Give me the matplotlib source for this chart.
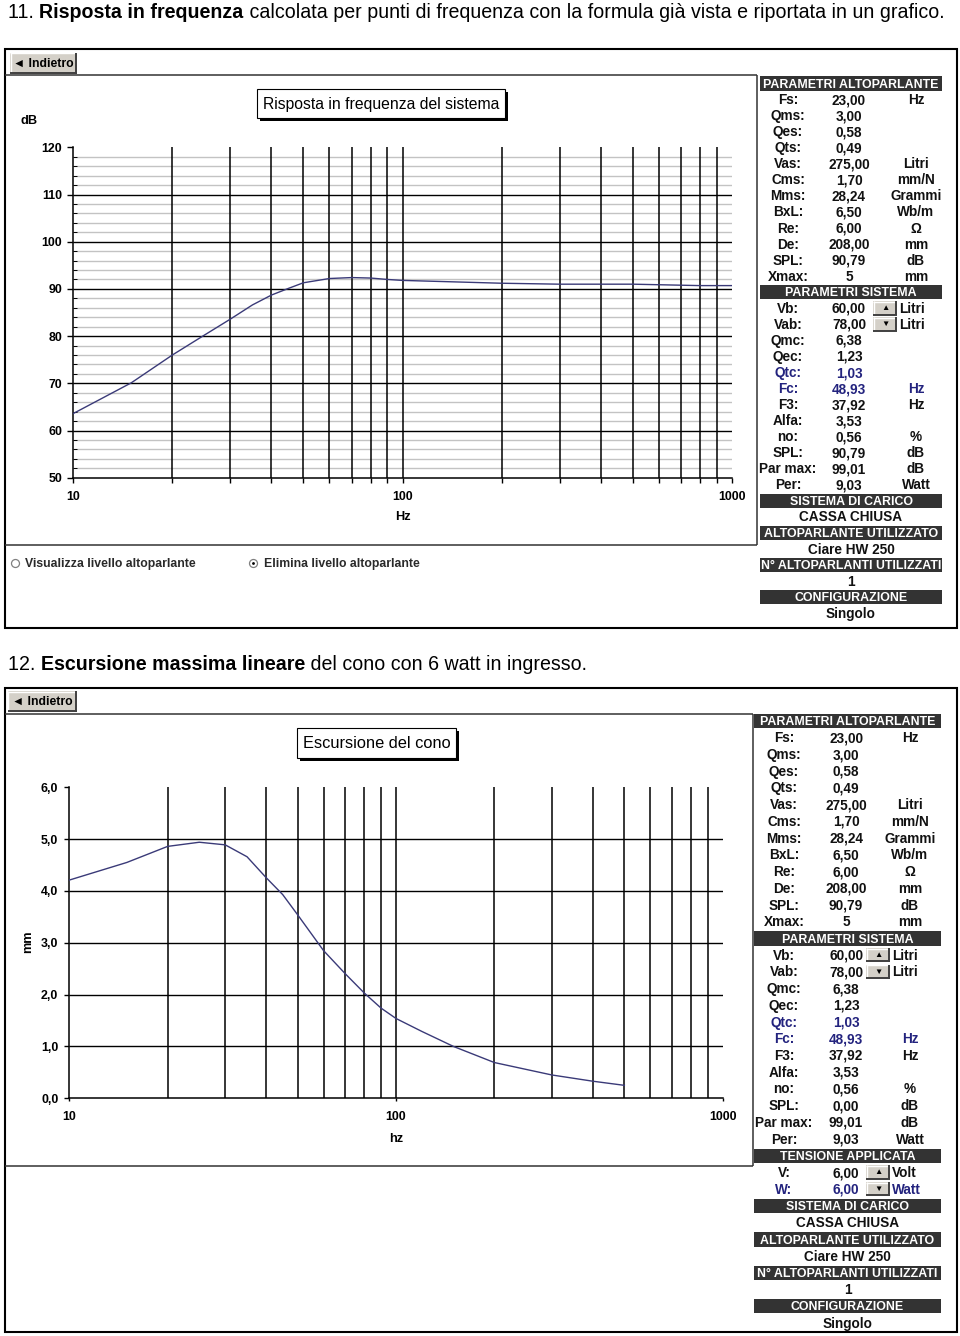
import numpy as np
import matplotlib
matplotlib.use('Agg')
from matplotlib import pyplot as plt
from matplotlib import font_manager as fm
from matplotlib.patches import Rectangle, Circle

W, H = 960, 1336


def have_font(name):
    try:
        fm.findfont(fm.FontProperties(family=name), fallback_to_default=False)
        return True
    except ValueError:
        return False


NARROW = ['Liberation Sans Narrow', 'DejaVu Sans'] if have_font('Liberation Sans Narrow') else ['Liberation Sans', 'DejaVu Sans']
SANS = ['Liberation Sans', 'DejaVu Sans']
plt.rcParams['font.family'] = SANS

# chart 11 : frequency response (dB)
resp_freq = [10, 15, 20, 25, 30, 35, 40, 45, 50, 60, 70, 80, 90, 100, 150, 200, 300, 500, 800, 1000]
resp_db = [63.6, 70.1, 76.0, 80.2, 83.6, 86.6, 88.7, 90.1, 91.3, 92.2, 92.4, 92.3, 92.0, 91.8,
           91.45, 91.2, 91.0, 91.0, 90.7, 90.7]

# chart 12 : cone excursion (mm)
exc_freq = [10, 15, 20, 25, 30, 35, 40, 45, 50, 60, 70, 80, 90, 100, 120, 150, 200, 300, 400, 500]
exc_mm = [4.21, 4.55, 4.86, 4.94, 4.89, 4.66, 4.26, 3.93, 3.54, 2.85, 2.40, 2.03, 1.74, 1.54,
          1.29, 1.00, 0.69, 0.45, 0.33, 0.25]

grid_freq = [20, 30, 40, 50, 60, 70, 80, 90, 100, 200, 300, 400, 500, 600, 700, 800, 900]
x_ticks = [10, 100, 1000]
x_labels = ['10', '100', '1000']
db_ticks = [50, 60, 70, 80, 90, 100, 110, 120]
mm_ticks = [0, 1, 2, 3, 4, 5, 6]
mm_labels = ['0,0', '1,0', '2,0', '3,0', '4,0', '5,0', '6,0']

# parameter tables
spk_labels = ['Fs:', 'Qms:', 'Qes:', 'Qts:', 'Vas:', 'Cms:', 'Mms:', 'BxL:', 'Re:', 'De:', 'SPL:', 'Xmax:']
spk_values = ['23,00', '3,00', '0,58', '0,49', '275,00', '1,70', '28,24', '6,50', '6,00', '208,00', '90,79', '5']
spk_units = ['Hz', '', '', '', 'Litri', 'mm/N', 'Grammi', 'Wb/m', 'Ω', 'mm', 'dB', 'mm']
sys_labels = ['Vb:', 'Vab:', 'Qmc:', 'Qec:', 'Qtc:', 'Fc:', 'F3:', 'Alfa:', 'no:', 'SPL:', 'Par max:', 'Per:']
sys_values_11 = ['60,00', '78,00', '6,38', '1,23', '1,03', '48,93', '37,92', '3,53', '0,56', '90,79', '99,01', '9,03']
sys_values_12 = ['60,00', '78,00', '6,38', '1,23', '1,03', '48,93', '37,92', '3,53', '0,56', '0,00', '99,01', '9,03']
sys_units = ['Litri', 'Litri', '', '', '', 'Hz', 'Hz', '', '%', 'dB', 'dB', 'Watt']
volt_labels = ['V:', 'W:']
volt_values = ['6,00', '6,00']
volt_units = ['Volt', 'Watt']
info_heads = ['SISTEMA DI CARICO', 'ALTOPARLANTE UTILIZZATO', 'N° ALTOPARLANTI UTILIZZATI', 'CONFIGURAZIONE']
info_values = ['CASSA CHIUSA', 'Ciare HW 250', '1', 'Singolo']
blue_rows = ['Qtc:', 'Fc:', 'W:']
spin_rows = {'Vb:': '▲', 'Vab:': '▼', 'V:': '▲', 'W:': '▼'}

BLUE = '#23237e'
CURVE = '#3a3a78'

fig = plt.figure(figsize=(W / 100, H / 100), dpi=100)
bg = fig.add_axes([0, 0, 1, 1])
bg.set_xlim(0, W)
bg.set_ylim(H, 0)
bg.axis('off')
renderer = fig.canvas.get_renderer()


def box(x0, y0, x1, y1):
    return [x0 / W, 1 - y1 / H, (x1 - x0) / W, (y1 - y0) / H]


def line(xs, ys, lw=1.0, c='black'):
    bg.plot(xs, ys, color=c, lw=lw, solid_capstyle='butt')


def rich_title(x, y, parts, width):
    # place the parts one after the other, then scale them to the width seen in the picture
    texts = [bg.text(x, y, parts[0][0], fontsize=14, family=NARROW, fontweight=parts[0][1],
                     va='center', ha='left')]
    for s, w in parts[1:]:
        texts.append(bg.annotate(s, xy=(1, 0), xycoords=texts[-1], fontsize=14, family=NARROW,
                                 fontweight=w, va='bottom', ha='left'))
    total = sum(t.get_window_extent(renderer).width for t in texts)
    for t in texts:
        t.set_fontsize(14 * width / total)


def button(x0, y0, x1, y1, text, size=8.8):
    bg.add_patch(Rectangle((x0, y0), x1 - x0, y1 - y0, fc='#d4d0c8', ec='none'))
    line([x0, x1], [y0 + 0.5, y0 + 0.5], 1, 'white')
    line([x0 + 0.5, x0 + 0.5], [y0, y1], 1, 'white')
    line([x0, x1], [y1 - 0.7, y1 - 0.7], 1.4, '#404040')
    line([x1 - 0.7, x1 - 0.7], [y0, y1], 1.4, '#404040')
    bg.text((x0 + x1) / 2, (y0 + y1) / 2 + 0.5, text, fontsize=size, fontweight='bold',
            ha='center', va='center', family=SANS)


def title_box(x0, y0, x1, y1, text, size):
    bg.add_patch(Rectangle((x0 + 3, y0 + 3), x1 - x0, y1 - y0, fc='black', ec='none'))
    bg.add_patch(Rectangle((x0, y0), x1 - x0, y1 - y0, fc='white', ec='black', lw=0.8))
    bg.text((x0 + x1) / 2, (y0 + y1) / 2 + 0.5, text, fontsize=size, ha='center', va='center')


def param_table(rows, x0, x1, y_top, dy, cols, btn_x):
    cl, cv, cu = cols
    # baseline alignment so that commas and descenders do not shift a row
    tb = dict(fontsize=9.8, fontweight='bold', family=NARROW, va='baseline', ha='center')
    hb = dict(tb, fontsize=8.9)
    for i, row in enumerate(rows):
        y = y_top + i * dy
        yb = y + 4.6
        if row[0] == 'h':
            bg.add_patch(Rectangle((x0, y - 7.2), x1 - x0, 14.4, fc='#333333', ec='none'))
            bg.text((x0 + x1) / 2, y + 4.3, row[1], color='white', **hb)
        elif row[0] == 'c':
            bg.text((x0 + x1) / 2, yb, row[1], color='#111111', **tb)
        else:
            lab, val, unit = row[1], row[2], row[3]
            c = BLUE if lab in blue_rows else '#111111'
            bg.text(cl, yb, lab, color=c, **tb)
            bg.text(cv, yb, val, color=c, **tb)
            if lab in spin_rows:
                button(btn_x, y - 7, btn_x + 24, y + 7, spin_rows[lab], size=6)
                bg.text(btn_x + 26, yb, unit, color=c, **dict(tb, ha='left'))
            else:
                bg.text(cu, yb, unit, color=c, **tb)


def build_rows(sys_values, with_volt):
    rows = [('h', 'PARAMETRI ALTOPARLANTE')]
    rows += [('r', l, v, u) for l, v, u in zip(spk_labels, spk_values, spk_units)]
    rows += [('h', 'PARAMETRI SISTEMA')]
    rows += [('r', l, v, u) for l, v, u in zip(sys_labels, sys_values, sys_units)]
    if with_volt:
        rows += [('h', 'TENSIONE APPLICATA')]
        rows += [('r', l, v, u) for l, v, u in zip(volt_labels, volt_values, volt_units)]
    for h, v in zip(info_heads, info_values):
        rows += [('h', h), ('c', v)]
    return rows


def style_axis(ax):
    ax.set_facecolor('none')
    ax.set_xscale('log')
    ax.spines['top'].set_visible(False)
    ax.spines['right'].set_visible(False)
    for s in ['left', 'bottom']:
        ax.spines[s].set_linewidth(1.1)
    ax.set_xticks(x_ticks)
    ax.set_xticklabels(x_labels)
    ax.tick_params(axis='both', which='major', labelsize=8.9, width=1, color='black')


# ---------------- panel 11 ----------------
rich_title(8, 12, [('11. ', 'normal'), ('Risposta in frequenza', 'bold'),
                   (' calcolata per punti di frequenza con la formula già vista e riportata in un grafico.', 'normal')],
           938)
bg.add_patch(Rectangle((5, 49), 952, 579, fc='none', ec='black', lw=1.5))
button(10, 52.5, 77, 73.5, '◄ Indietro')
line([5, 757], [74.5, 74.5], 1.1, '#333333')
line([757, 757], [74.5, 545], 1.1, '#333333')
line([5, 757], [545, 545], 1.1, '#333333')
title_box(257, 89, 505, 118, 'Risposta in frequenza del sistema', 11.3)
bg.text(29.5, 121, 'dB', fontsize=9.2, fontweight='bold', ha='center', va='center')
bg.text(402.5, 517.5, 'Hz', fontsize=9.2, fontweight='bold', ha='center', va='center')

ax1 = fig.add_axes(box(73.3, 147.3, 731.7, 477.7))
style_axis(ax1)
ax1.set_xlim(10, 1000)
ax1.set_ylim(50, 120)
ax1.hlines([d for d in range(52, 120, 2) if d % 10], 10, 1000, color='#c3c3c3', lw=1.0, zorder=1)
ax1.hlines(db_ticks[1:-1], 10, 1000, color='black', lw=1.0, zorder=2)
ax1.vlines(grid_freq, 50, 120, color='black', lw=1.1, zorder=2)
ax1.plot(resp_freq, resp_db, color=CURVE, lw=1.0, zorder=3)
ax1.set_yticks(db_ticks)
ax1.set_yticks(range(52, 120, 2), minor=True)
ax1.set_xticks(grid_freq, minor=True)
ax1.set_xticklabels([], minor=True)
ax1.tick_params(axis='y', which='major', length=4, pad=4)
ax1.tick_params(axis='y', which='minor', length=3, direction='in', width=0.7)
ax1.tick_params(axis='x', which='major', length=3.6, pad=6)
ax1.tick_params(axis='x', which='minor', length=3.6, width=1)
for lab in ax1.get_xticklabels() + ax1.get_yticklabels():
    lab.set_fontweight('bold')

bg.add_patch(Circle((15.5, 563.5), 4, fc='white', ec='#808080', lw=0.9))
bg.text(25, 563.5, 'Visualizza livello altoparlante', fontsize=8.8, fontweight='bold',
        color='#2a2a2a', va='center', ha='left')
bg.add_patch(Circle((253.5, 563.5), 4, fc='white', ec='#808080', lw=0.9))
bg.add_patch(Circle((253.5, 563.5), 1.4, fc='black', ec='none'))
bg.text(263.5, 563.5, 'Elimina livello altoparlante', fontsize=8.8, fontweight='bold',
        color='#2a2a2a', va='center', ha='left')

param_table(build_rows(sys_values_11, False), 760, 942, 83.5, 16.05, (788, 849, 916), 873)

# ---------------- panel 12 ----------------
rich_title(8, 664, [('12. ', 'normal'), ('Escursione massima lineare', 'bold'),
                    (' del cono con 6 watt in ingresso.', 'normal')], 580)
bg.add_patch(Rectangle((5, 687.5), 952, 644, fc='none', ec='black', lw=1.5))
button(7.5, 691, 77, 712, '◄ Indietro')
line([5, 752.5], [714, 714], 1.1, '#333333')
line([752.5, 752.5], [714, 1166], 1.1, '#333333')
line([5, 752.5], [1166, 1166], 1.1, '#333333')
title_box(297, 727.5, 456, 758, 'Escursione del cono', 11.8)
bg.text(28.5, 942, 'mm', fontsize=9.2, fontweight='bold', ha='center', va='center', rotation=90)
bg.text(396, 1139.5, 'hz', fontsize=9.2, fontweight='bold', ha='center', va='center')

ax2 = fig.add_axes(box(69.3, 787.3, 722.7, 1098.3))
style_axis(ax2)
ax2.set_xlim(10, 1000)
ax2.set_ylim(0, 6)
ax2.hlines(mm_ticks[1:-1], 10, 1000, color='black', lw=1.0, zorder=2)
ax2.vlines(grid_freq, 0, 6, color='black', lw=1.1, zorder=2)
ax2.plot(exc_freq, exc_mm, color=CURVE, lw=1.0, zorder=3)
ax2.set_yticks(mm_ticks)
ax2.set_yticklabels(mm_labels)
ax2.set_xticks([], minor=True)
ax2.set_yticks([], minor=True)
ax2.tick_params(axis='y', which='major', length=3.6, pad=4.3)
ax2.tick_params(axis='x', which='major', length=2.5, pad=7)
for lab in ax2.get_xticklabels() + ax2.get_yticklabels():
    lab.set_fontweight('bold')

param_table(build_rows(sys_values_12, True), 754, 941, 721, 16.72, (784, 846, 910), 866)

fig.savefig('out.png', dpi=100)
